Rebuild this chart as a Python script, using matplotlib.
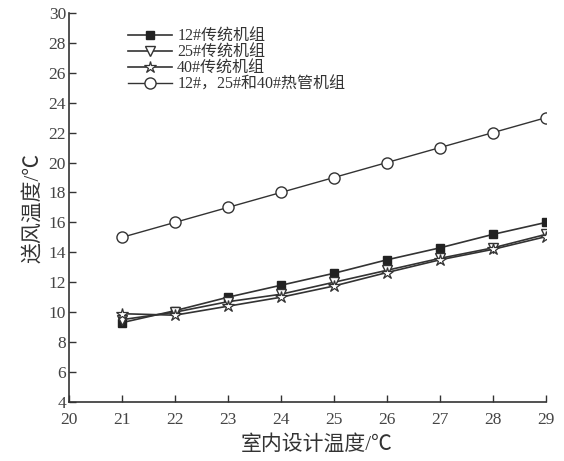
import numpy as np
import matplotlib
matplotlib.use('Agg')
import matplotlib.pyplot as plt

plt.rcParams['font.family'] = ['Liberation Serif', 'Noto Sans CJK SC', 'DejaVu Sans']

# 室内设计温度 / ℃
x = [21, 22, 23, 24, 25, 26, 27, 28, 29]

# 送风温度 / ℃
y_12 = [9.3, 10.1, 11.0, 11.8, 12.6, 13.5, 14.3, 15.2, 16.0]
y_25 = [9.5, 10.0, 10.7, 11.2, 12.0, 12.8, 13.6, 14.3, 15.2]
y_40 = [9.9, 9.8, 10.4, 11.0, 11.75, 12.65, 13.5, 14.2, 15.05]
y_hp = [15, 16, 17, 18, 19, 20, 21, 22, 23]

labels = ['12#传统机组', '25#传统机组', '40#传统机组', '12#，25#和40#热管机组']

fig = plt.figure(figsize=(5.64, 4.61), dpi=100)
ax = fig.add_axes([0.122, 0.128, 0.846, 0.844])

lc = '#333333'
ax.plot(x, y_12, color=lc, lw=1.2, marker='s', ms=6, mfc='#222222', mec='#222222', label=labels[0], zorder=3)
ax.plot(x, y_25, color=lc, lw=1.2, marker='v', ms=7, mfc='white', mec='#333333', label=labels[1], zorder=3)
ax.plot(x, y_40, color=lc, lw=1.2, marker='*', ms=9, mfc='white', mec='#333333', mew=0.9, label=labels[2], zorder=3)
ax.plot(x, y_hp, color=lc, lw=1.0, marker='o', ms=8, mfc='white', mec='#333333', label=labels[3], zorder=3)

ax.set_xlim(20, 29)
ax.set_ylim(4, 30)
ax.set_xticks(np.arange(20, 30, 1))
ax.set_yticks(np.arange(4, 31, 2))

for s in ['top', 'right']:
    ax.spines[s].set_visible(False)
for s in ['left', 'bottom']:
    ax.spines[s].set_color('#333333')
    ax.spines[s].set_linewidth(1.2)

ax.tick_params(direction='in', length=5, width=1.0, colors='#333333', labelsize=12.5, labelcolor='#444444')
ax.tick_params(axis='x', pad=7)
ax.tick_params(axis='y', pad=2)

ax.set_xlabel('室内设计温度/℃', fontsize=15, color='#333333', labelpad=8)
ax.xaxis.set_label_coords(0.52, -0.085)
ax.set_ylabel('送风温度/℃', fontsize=15, color='#333333', labelpad=4)

ax.legend(loc='upper left', bbox_to_anchor=(0.105, 0.985), frameon=False, fontsize=11.5,
          handlelength=2.7, handletextpad=0.35, labelspacing=0.0, borderaxespad=0.2,
          labelcolor='#333333')

fig.savefig('out.png', dpi=100)
